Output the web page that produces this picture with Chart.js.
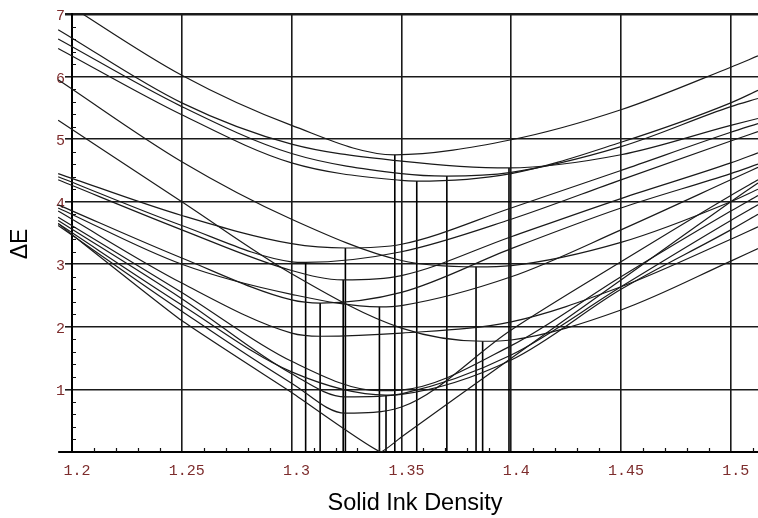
<!DOCTYPE html>
<html><head><meta charset="utf-8">
<script src="https://cdn.jsdelivr.net/npm/chart.js@4"></script>
<style>html,body{margin:0;padding:0;background:#fff}#wrap{width:758px;height:518px}</style>
</head><body><div id="wrap"><canvas id="c"></canvas></div>
<script>
// ---- data ----
const X_TICKS = [1.2, 1.25, 1.3, 1.35, 1.4, 1.45, 1.5];
const Y_TICKS = [1, 2, 3, 4, 5, 6, 7];
const DENSITY = [1.1937, 1.25, 1.3, 1.35, 1.4, 1.45, 1.5, 1.5124];

const CURVE_G = [7.25, 6.02, 5.22, 4.752, 4.99, 5.47, 6.15, 6.33];
const CURVE_I = [6.45, 5.39, 4.62, 4.34, 4.45, 4.95, 5.58, 5.78];
const CURVE_J = [6.60, 5.52, 4.77, 4.45, 4.47, 4.88, 5.52, 5.65];
const CURVE_K = [6.75, 5.58, 4.92, 4.65, null, 4.75, 5.22, 5.33];
const CURVE_L = [5.95, 4.64, 3.72, 3.06, 2.98, 3.35, 4.00, 4.20];
const CURVE_M = [5.30, 4.00, 2.85, 1.98, 1.79, 2.27, 3.05, 3.25];
const CURVE_C = [4.45, 3.78, 3.33, 3.32, 3.90, 4.50, 5.11, 5.25];
const CURVE_A = [4.40, 3.62, 3.04, 3.20, 3.72, 4.35, 4.97, 5.12];
const CURVE_D = [4.35, 3.55, 2.90, 2.82, 3.44, 4.05, 4.62, 4.78];
const CURVE_B = [3.95, 3.10, 2.43, 2.55, 3.25, 3.90, 4.45, 4.60];
const CURVE_E = [3.90, 3.00, 2.52, 2.34, 2.80, 3.55, 4.35, 4.55];
const CURVE_R = [3.85, 2.70, 1.90, 1.90, 2.08, 2.64, 3.40, 3.60];
const CURVE_Q = [3.75, 2.55, 1.45, 0.99, 1.70, 2.80, 3.85, 4.10];
const CURVE_P = [3.70, 2.45, 1.25, 0.92, 1.47, 2.60, 3.55, 3.80];
const CURVE_F = [3.65, 2.35, 1.28, 0.93, 1.55, 2.64, 3.70, 3.95];
const CURVE_O = [3.62, 2.25, 1.10, 0.72, 1.95, 3.04, 4.10, 4.35];
const CURVE_N = [3.65, 2.10, 0.95, 0.24, 1.50, 2.75, 4.00, 4.30];

const CURVES = [CURVE_G, CURVE_K, CURVE_J, CURVE_I, CURVE_L, CURVE_M, CURVE_C, CURVE_A, CURVE_D,
                CURVE_B, CURVE_E, CURVE_R, CURVE_Q, CURVE_P, CURVE_F, CURVE_O, CURVE_N];
// minimum of each curve (density, deltaE), same order as CURVES
const MIN_X = [1.347, 1.399, 1.3707, 1.357, 1.384, 1.387, 1.3245, 1.3064, 1.3235,
               1.313, 1.340, 1.313, 1.340, 1.3245, 1.343, 1.3245, 1.3405];
const MIN_Y = [4.75, 4.54, 4.41, 4.33, 2.96, 1.77, 3.26, 3.03, 2.75,
               2.38, 2.32, 1.85, 0.98, 0.88, 0.91, 0.62, 0.0];

// ---- build datasets ----
const CLIP = {left: 16, top: 0, right: 0, bottom: 0};
const datasets = CURVES.map((vals, i) => {
  const pts = DENSITY.map((x, j) => ({x, y: vals[j]}))
    .filter(p => p.y !== null && Math.abs(p.x - MIN_X[i]) > 0.004);
  pts.push({x: MIN_X[i], y: MIN_Y[i]});
  pts.sort((a, b) => a.x - b.x);
  const isV = MIN_Y[i] === 0;
  return {
    data: pts, borderColor: '#1a1a1a', borderWidth: 1.2, pointRadius: 0,
    cubicInterpolationMode: isV ? 'default' : 'monotone', tension: isV ? 0.15 : 0,
    clip: CLIP
  };
});
const drops = [];
MIN_X.forEach((x, i) => {
  if (MIN_Y[i] > 0) { drops.push({x, y: 0}, {x, y: MIN_Y[i]}, {x, y: null}); }
});
datasets.push({data: drops, borderColor: '#000', borderWidth: 1.6, pointRadius: 0, spanGaps: false, tension: 0, clip: CLIP});

const TICK_COLOR = '#7d2c2c';
const decor = {
  id: 'decor',
  afterDraw(chart) {
    const {ctx, scales: {x, y}} = chart;
    const y0 = y.getPixelForValue(0), x0 = x.getPixelForValue(1.2);
    ctx.save();
    ctx.strokeStyle = '#111'; ctx.lineWidth = 1.2;
    ctx.beginPath();
    for (let k = 121; k <= 151; k++) {
      if (k % 5 === 0) continue;
      const px = Math.round(x.getPixelForValue(k / 100)) + 0.5;
      ctx.moveTo(px, y0); ctx.lineTo(px, y0 - 4);
    }
    for (let k = 1; k < 35; k++) {
      if (k % 5 === 0) continue;
      const py = Math.round(y.getPixelForValue(k / 5)) + 0.5;
      ctx.moveTo(x0, py); ctx.lineTo(x0 + 4, py);
    }
    ctx.stroke();
    ctx.lineWidth = 2; ctx.strokeStyle = '#000';
    ctx.beginPath(); ctx.moveTo(x.getPixelForValue(DENSITY[0]), y0); ctx.lineTo(x0, y0); ctx.stroke();
    ctx.translate(21, 244); ctx.rotate(-Math.PI / 2);
    ctx.font = '23px "Liberation Sans"'; ctx.fillStyle = '#000';
    ctx.textAlign = 'center'; ctx.textBaseline = 'middle';
    ctx.fillText('\u0394E', 0, 0);
    ctx.restore();
  }
};

Chart.defaults.font.family = '"Liberation Mono", monospace';
new Chart(document.getElementById('c'), {
  type: 'line',
  data: {datasets},
  plugins: [decor],
  options: {
    responsive: true, maintainAspectRatio: false, animation: false,
    layout: {padding: {left: 0, top: 14, right: 0, bottom: 0}},
    plugins: {legend: {display: false}, tooltip: {enabled: false}},
    scales: {
      x: {
        type: 'linear', min: 1.2, max: 1.5124,
        afterFit: s => { s.height = 66; },
        afterBuildTicks: s => { s.ticks = X_TICKS.map(v => ({value: v})); },
        ticks: {color: TICK_COLOR, font: {size: 15}, padding: 10, labelOffset: 5,
                callback: v => String(Math.round(v * 100) / 100)},
        grid: {color: '#1a1a1a', lineWidth: 1.6, drawTicks: false},
        border: {color: '#000', width: 2},
        title: {display: true, text: 'Solid Ink Density', color: '#000',
                font: {family: '"Liberation Sans", Arial, sans-serif', size: 23.5}, padding: {top: 0, bottom: 0}}
      },
      y: {
        type: 'linear', min: 0, max: 7,
        afterFit: s => { s.width = 72; },
        afterBuildTicks: s => { s.ticks = [0].concat(Y_TICKS).map(v => ({value: v})); },
        ticks: {color: TICK_COLOR, font: {size: 15}, padding: 0, labelOffset: 2,
                callback: v => v === 0 ? '' : String(v)},
        grid: {color: '#1a1a1a', lineWidth: c => (c.tick && c.tick.value === 7) ? 2.5 : 1.6, tickLength: 7},
        border: {color: '#000', width: 2}
      }
    }
  }
});
</script></body></html>
